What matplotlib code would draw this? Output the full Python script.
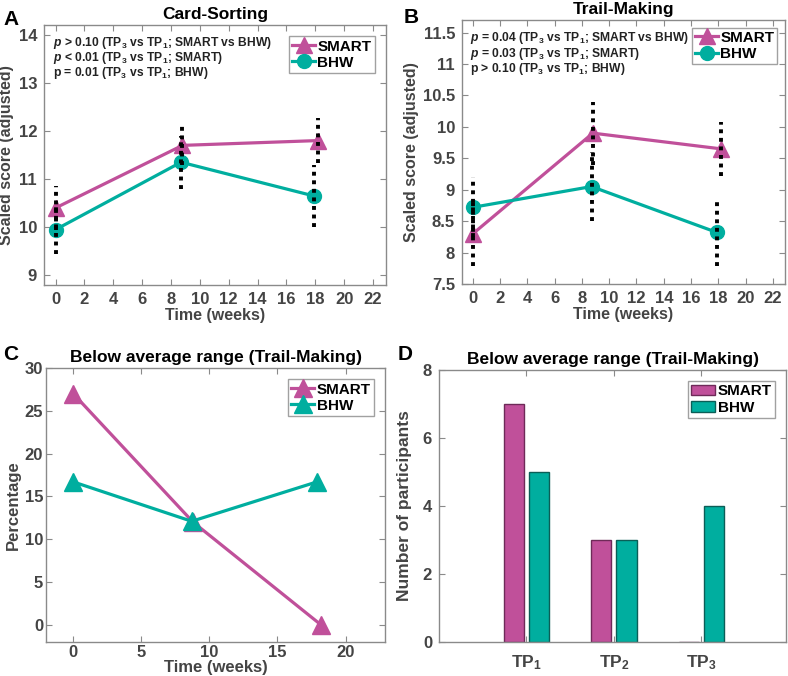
import matplotlib
matplotlib.use('Agg')
import matplotlib.pyplot as plt
import numpy as np

plt.rcParams['font.family'] = ['Liberation Sans', 'DejaVu Sans']
plt.rcParams['font.weight'] = 'bold'
plt.rcParams['mathtext.fontset'] = 'custom'
plt.rcParams['mathtext.rm'] = 'Liberation Sans:bold'
plt.rcParams['mathtext.bf'] = 'Liberation Sans:bold'
plt.rcParams['mathtext.it'] = 'Liberation Sans:bold:italic'
plt.rcParams['mathtext.default'] = 'rm'

# data
weeks_smart = [0, 8.8, 18.2]
weeks_bhw = [0, 8.7, 17.9]

card_smart = [10.4, 11.7, 11.8]
card_smart_err = [0.45, 0.4, 0.47]
card_bhw = [9.95, 11.35, 10.65]
card_bhw_err = [0.5, 0.55, 0.65]

trail_smart = [8.3, 9.9, 9.65]
trail_smart_err = [0.52, 0.5, 0.43]
trail_bhw = [8.72, 9.05, 8.32]
trail_bhw_err = [0.48, 0.55, 0.53]

below_pct_smart = [27, 12, 0]
below_pct_bhw = [16.7, 12.1, 16.7]

tp_labels = ['TP$_1$', 'TP$_2$', 'TP$_3$']
below_n_smart = [7, 3, 0]
below_n_bhw = [5, 3, 4]

notes_card = [r'$\mathit{p}$ > 0.10 (TP$_3$ vs TP$_1$; SMART vs BHW)',
              r'$\mathit{p}$ < 0.01 (TP$_3$ vs TP$_1$; SMART)',
              r'p = 0.01 (TP$_3$ vs TP$_1$; BHW)']
notes_trail = [r'$\mathit{p}$ = 0.04 (TP$_3$ vs TP$_1$; SMART vs BHW)',
               r'$\mathit{p}$ = 0.03 (TP$_3$ vs TP$_1$; SMART)',
               r'p > 0.10 (TP$_3$ vs TP$_1$; BHW)']

MAG = '#C0509A'
TEAL = '#00AE9F'
GRAY = '#444444'
AX_GRAY = '#8a8a8a'
TICK_FS = 12


def style_axes(ax, pad=5):
    for s in ax.spines.values():
        s.set_color(AX_GRAY)
        s.set_linewidth(1.0)
    ax.tick_params(direction='in', top=True, right=True, length=4,
                   color=AX_GRAY, labelcolor=GRAY, labelsize=TICK_FS, pad=pad)
    for lab in ax.get_xticklabels() + ax.get_yticklabels():
        lab.set_fontweight('bold')


def make_legend(ax, pad, hl=1.5):
    leg = ax.legend(loc='upper right', fontsize=11, handlelength=hl,
                    borderaxespad=pad, fancybox=False, edgecolor=AX_GRAY,
                    handletextpad=0.15, borderpad=0.2, labelspacing=0.15)
    leg.get_frame().set_linewidth(1.0)
    for txt in leg.get_texts():
        txt.set_fontweight('bold')
    return leg


def score_panel(ax, sm, sm_err, bh, bh_err, notes, title, ylim, yticks, ylabel, legpad):
    ax.plot(weeks_smart, sm, '-^', color=MAG, lw=2.3, ms=12, label='SMART', zorder=3)
    ax.plot(weeks_bhw, bh, '-o', color=TEAL, lw=2.3, ms=10, label='BHW', zorder=3)
    sm = np.array(sm); bh = np.array(bh)
    ax.vlines(weeks_smart, sm - sm_err, sm + sm_err, colors='black',
              linestyles=(0, (1, 1.2)), lw=2.8, zorder=4)
    ax.vlines(weeks_bhw, bh - bh_err, bh + bh_err, colors='black',
              linestyles=(0, (1, 1.2)), lw=2.8, zorder=4)
    ax.set_xlim(-0.8, 22.9)
    ax.set_ylim(*ylim)
    ax.set_xticks(range(0, 23, 2))
    ax.set_yticks(yticks)
    ax.set_xlabel('Time (weeks)', fontsize=11.5, fontweight='bold', color=GRAY, labelpad=1)
    ax.set_ylabel(ylabel, fontsize=11.5, fontweight='bold', color=GRAY, labelpad=3)
    ax.set_title(title, fontsize=12.5, fontweight='bold', pad=4)
    for i, t in enumerate(notes):
        ax.text(0.026, 0.93 - i * 0.058, t, transform=ax.transAxes, fontsize=8.7,
                fontweight='bold', color='#222222', va='center', ha='left')
    make_legend(ax, legpad)
    style_axes(ax)


fig = plt.figure(figsize=(7.88, 6.76), dpi=100)
axA = fig.add_axes([0.0558, 0.5784, 0.434, 0.3846])
axB = fig.add_axes([0.5863, 0.5799, 0.410, 0.3905])
axC = fig.add_axes([0.0584, 0.0503, 0.4302, 0.4053])
axD = fig.add_axes([0.5571, 0.0503, 0.4404, 0.4024])

score_panel(axA, card_smart, card_smart_err, card_bhw, card_bhw_err, notes_card,
            'Card-Sorting', (8.8, 14.2), range(9, 15), 'Scaled score (adjusted)', 0.75)
score_panel(axB, trail_smart, trail_smart_err, trail_bhw, trail_bhw_err, notes_trail,
            'Trail-Making', (7.5, 11.7), np.arange(7.5, 11.6, 0.5), 'Scaled score (adjusted)', 0.5)
axB.set_yticklabels(['7.5', '8', '8.5', '9', '9.5', '10', '10.5', '11', '11.5'])
style_axes(axB)

# panel C
axC.plot(weeks_smart, below_pct_smart, '-^', color=MAG, lw=2.3, ms=13, label='SMART')
axC.plot(weeks_bhw, below_pct_bhw, '-^', color=TEAL, lw=2.3, ms=13, label='BHW')
axC.set_xlim(-2, 22.9)
axC.set_ylim(-2, 30)
axC.set_xticks([0, 5, 10, 15, 20])
axC.set_yticks([0, 5, 10, 15, 20, 25, 30])
axC.set_xlabel('Time (weeks)', fontsize=12, fontweight='bold', color=GRAY, labelpad=0.5)
axC.set_ylabel('Percentage', fontsize=12, fontweight='bold', color=GRAY, labelpad=3)
axC.set_title('Below average range (Trail-Making)', fontsize=12.5, fontweight='bold', pad=4)
make_legend(axC, 0.75)
style_axes(axC, pad=2)

# panel D
x = np.arange(1, 4)
w = 0.23
axD.bar(x - 0.145, below_n_smart, w, color=MAG, edgecolor='#6e2a58', lw=1.0, label='SMART')
axD.bar(x + 0.145, below_n_bhw, w, color=TEAL, edgecolor='#0b5e57', lw=1.0, label='BHW')
axD.set_xlim(0, 3.97)
axD.set_ylim(0, 8)
axD.set_xticks(x)
axD.set_xticklabels(tp_labels)
axD.set_yticks([0, 2, 4, 6, 8])
axD.set_ylabel('Number of participants', fontsize=12.5, fontweight='bold', color=GRAY, labelpad=8)
axD.set_title('Below average range (Trail-Making)', fontsize=12.5, fontweight='bold', pad=4)
make_legend(axD, 0.75, hl=1.6)
style_axes(axD)
axD.tick_params(axis='x', labelsize=12.5, pad=8)

# panel letters
fig.text(0.004, 0.985, 'A', fontsize=15, fontweight='bold', va='top')
fig.text(0.512, 0.988, 'B', fontsize=15, fontweight='bold', va='top')
fig.text(0.004, 0.49, 'C', fontsize=15, fontweight='bold', va='top')
fig.text(0.505, 0.49, 'D', fontsize=15, fontweight='bold', va='top')

fig.savefig('out.png', dpi=100)
